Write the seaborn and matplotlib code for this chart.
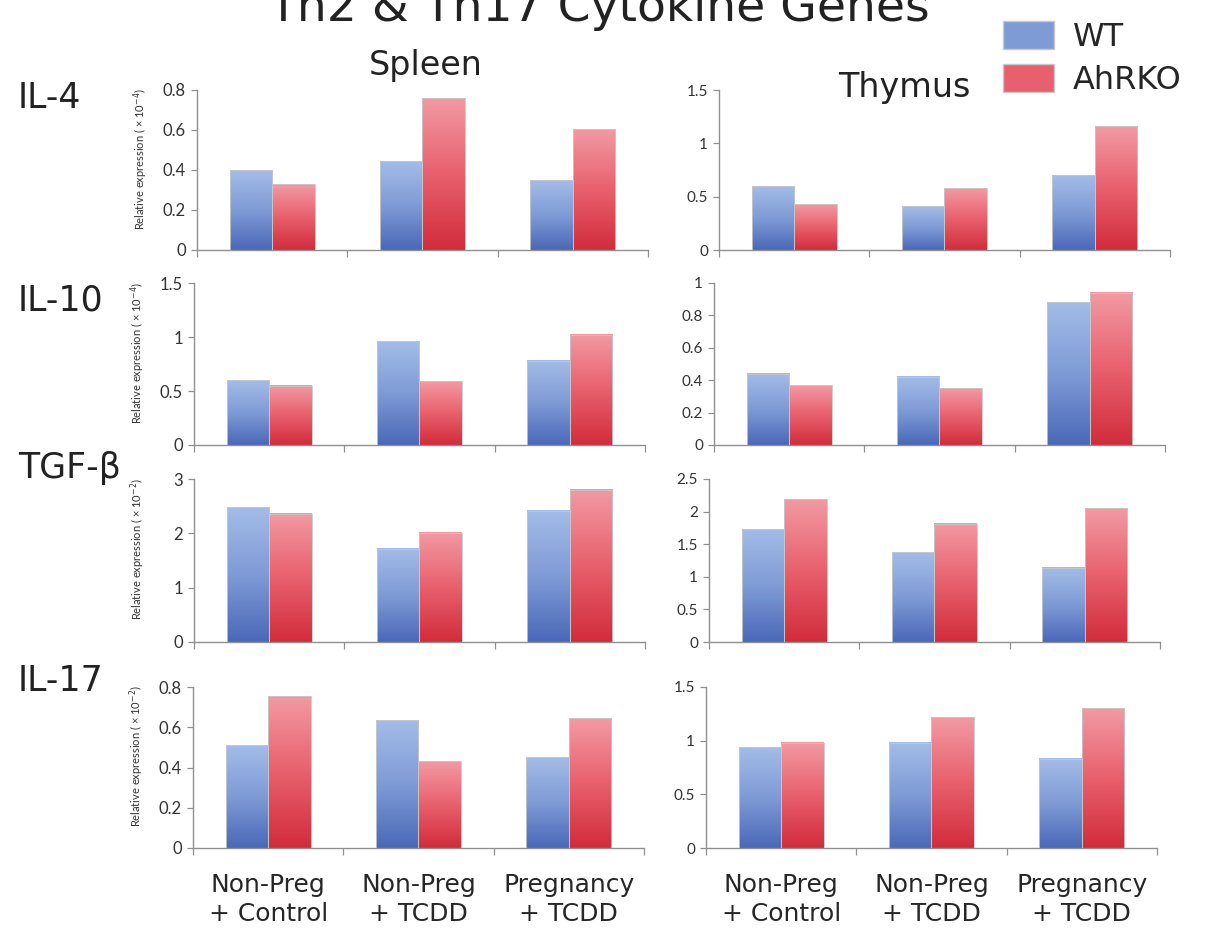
import numpy as np
import pandas as pd
import seaborn as sns
import matplotlib.pyplot as plt
from matplotlib.colors import LinearSegmentedColormap
from matplotlib.patches import Patch

sns.set_theme(style="ticks")
plt.rcParams['font.family'] = ['Lato', 'DejaVu Sans']

groups = ["Non-Preg\n+ Control", "Non-Preg\n+ TCDD", "Pregnancy\n+ TCDD"]
genotypes = ["WT", "AhRKO"]
genes = ["IL-4", "IL-10", "TGF-β", "IL-17"]
exponents = ["-4", "-4", "-2", "-2"]

# spleen values (WT, AhRKO) per group
il4_spleen_wt = [0.40, 0.445, 0.35]
il4_spleen_ko = [0.33, 0.76, 0.605]
il10_spleen_wt = [0.60, 0.96, 0.78]
il10_spleen_ko = [0.55, 0.59, 1.02]
tgfb_spleen_wt = [2.48, 1.72, 2.42]
tgfb_spleen_ko = [2.36, 2.01, 2.80]
il17_spleen_wt = [0.51, 0.635, 0.45]
il17_spleen_ko = [0.755, 0.43, 0.645]

# thymus values
il4_thymus_wt = [0.60, 0.41, 0.70]
il4_thymus_ko = [0.43, 0.58, 1.16]
il10_thymus_wt = [0.44, 0.42, 0.88]
il10_thymus_ko = [0.37, 0.35, 0.94]
tgfb_thymus_wt = [1.73, 1.38, 1.14]
tgfb_thymus_ko = [2.19, 1.81, 2.05]
il17_thymus_wt = [0.94, 0.98, 0.83]
il17_thymus_ko = [0.98, 1.22, 1.30]

spleen_ymax = [0.8, 1.5, 3, 0.8]
spleen_step = [0.2, 0.5, 1, 0.2]
thymus_ymax = [1.5, 1, 2.5, 1.5]
thymus_step = [0.5, 0.2, 0.5, 0.5]

spleen = [(il4_spleen_wt, il4_spleen_ko), (il10_spleen_wt, il10_spleen_ko),
          (tgfb_spleen_wt, tgfb_spleen_ko), (il17_spleen_wt, il17_spleen_ko)]
thymus = [(il4_thymus_wt, il4_thymus_ko), (il10_thymus_wt, il10_thymus_ko),
          (tgfb_thymus_wt, tgfb_thymus_ko), (il17_thymus_wt, il17_thymus_ko)]

blue_cmap = LinearSegmentedColormap.from_list("b", ["#a3bce8", "#7f9bd6", "#4a68b8"])
red_cmap = LinearSegmentedColormap.from_list("r", ["#f29aa3", "#e8606d", "#d22c3b"])
palette = {"WT": "#7f9bd6", "AhRKO": "#e8606d"}
grad = np.linspace(0, 1, 256).reshape(-1, 1)

W, H = 1219, 932
fig = plt.figure(figsize=(W / 100, H / 100), dpi=100)

# pixel layout of the panels: (zero line y, top tick y)
rows = [(250, 90), (445, 283), (642, 479), (848, 687)]
spleen_left = [197, 194, 194, 193]
thymus_left = [719, 714, 709, 706]
panel_w = 451


def make_df(wt, ko):
    return pd.DataFrame({
        "group": groups * 2,
        "genotype": ["WT"] * 3 + ["AhRKO"] * 3,
        "value": list(wt) + list(ko),
    })


def draw_panel(ax, wt, ko, ymax, step, fs, last):
    df = make_df(wt, ko)
    sns.barplot(data=df, x="group", y="value", hue="genotype", hue_order=genotypes,
                palette=palette, width=0.565, legend=False, ax=ax)
    for p in list(ax.patches):
        x0, w, h = p.get_x(), p.get_width(), p.get_height()
        if h <= 0:
            continue
        cmap = blue_cmap if np.isclose(p.get_facecolor()[2], 0.839, atol=0.05) else red_cmap
        ax.imshow(grad, extent=[x0, x0 + w, 0, h], aspect="auto", cmap=cmap, zorder=2)
        p.set_facecolor("none")
        p.set_edgecolor("#c8c8c8")
        p.set_linewidth(0.6)
        p.set_zorder(3)
    ax.set_xlim(-0.5, 2.5)
    ax.set_ylim(0, ymax)
    ax.set_yticks(np.arange(0, ymax + step / 2, step))
    ax.set_yticklabels([f"{v:g}" for v in np.arange(0, ymax + step / 2, step)], fontsize=fs)
    ax.set_xticks([-0.5, 0.5, 1.5, 2.5], minor=True)
    ax.tick_params(axis="x", which="minor", length=5, color="#909090", width=0.9)
    ax.tick_params(axis="y", length=4, color="#909090", width=0.9, pad=4, colors="#333333")
    if last:
        ax.set_xticks([0, 1, 2])
        ax.set_xticklabels(groups, fontsize=18, family=["DejaVu Sans"], linespacing=1.25)
        ax.tick_params(axis="x", which="major", length=0, pad=18)
    else:
        ax.set_xticks([])
    ax.set_xlabel("")
    ax.set_ylabel("")
    sns.despine(ax=ax)
    for s in ["left", "bottom"]:
        ax.spines[s].set_color("#909090")
        ax.spines[s].set_linewidth(1.0)


for i in range(4):
    zero, top = rows[i]
    bottom = 1 - zero / H
    height = (zero - top) / H
    last = i == 3

    ax = fig.add_axes([spleen_left[i] / W, bottom, panel_w / W, height])
    draw_panel(ax, *spleen[i], spleen_ymax[i], spleen_step[i], 12, last)
    ax.set_ylabel(f"Relative expression ( × 10$^{{{exponents[i]}}}$)", fontsize=8,
                  color="#333333")
    ax.yaxis.set_label_coords(-0.105, 0.57)

    ax2 = fig.add_axes([thymus_left[i] / W, bottom, panel_w / W, height])
    draw_panel(ax2, *thymus[i], thymus_ymax[i], thymus_step[i], 11, last)

    label_y = [98, 301, 468, 681][i]
    fig.text(18 / W, 1 - label_y / H, genes[i], fontsize=25, ha="left", va="center",
             family=["DejaVu Sans"], color="#222222")

fig.text(599 / W, 1 - 21 / H, "Th2 & Th17 Cytokine Genes", fontsize=34, ha="center",
         va="baseline", family=["DejaVu Sans"], color="#222222")
fig.text(426 / W, 1 - 66 / H, "Spleen", fontsize=24, ha="center", va="center",
         family=["DejaVu Sans"], color="#222222")
fig.text(904 / W, 1 - 87 / H, "Thymus", fontsize=24, ha="center", va="center",
         family=["DejaVu Sans"], color="#222222")

handles = [Patch(facecolor=palette["WT"], edgecolor="#c8c8c8"),
           Patch(facecolor=palette["AhRKO"], edgecolor="#c8c8c8")]
fig.legend(handles, genotypes, loc="upper left", bbox_to_anchor=(974 / W, 1.008),
           frameon=False, handlelength=1.6, handleheight=0.95,
           handletextpad=0.6, labelspacing=0.35, prop={"family": "DejaVu Sans", "size": 23})

fig.savefig("out.png", dpi=100)
